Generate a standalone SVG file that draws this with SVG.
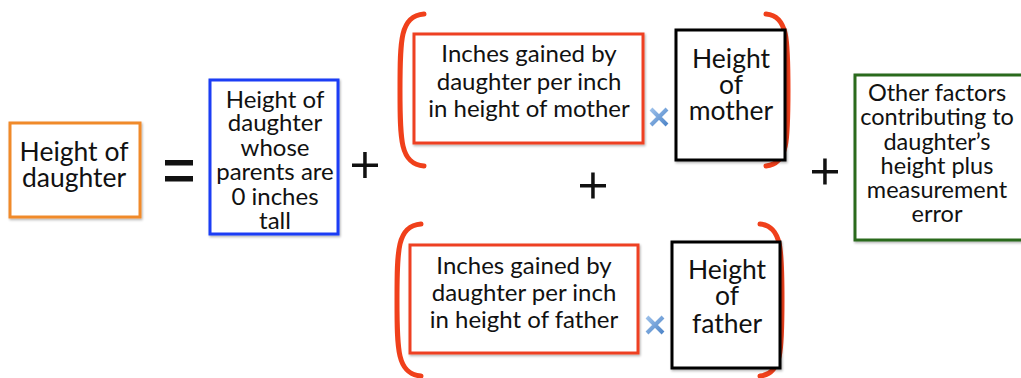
<svg xmlns="http://www.w3.org/2000/svg" width="1021" height="378" viewBox="0 0 1021 378">
  <defs>
    <linearGradient id="xgrad" x1="0" y1="0" x2="1" y2="1">
      <stop offset="0" stop-color="#9cc0ea"/>
      <stop offset="1" stop-color="#4f86c9"/>
    </linearGradient>
    <filter id="shadow" x="-10%" y="-10%" width="120%" height="120%">
      <feDropShadow dx="1" dy="1.5" stdDeviation="1" flood-color="#000" flood-opacity="0.3"/>
    </filter>
  </defs>
  <style>
    text { font-family: Lato, "Liberation Sans", sans-serif; fill: #111; text-anchor: middle; }
    .t { font-size: 24px; }
    .g { font-size: 23.5px; }
    .big { font-size: 26.5px; }
    .box { fill: #fff; stroke-width: 3; filter: url(#shadow); }
    .orange { stroke: #f08a2c; }
    .blue { stroke: #1c3cf5; }
    .red { stroke: #ee4124; }
    .black { stroke: #000; }
    .green { stroke: #2c6a1f; }
    .bracket { fill: none; stroke: #f0401b; stroke-width: 5; stroke-linecap: round; }
    .op { fill: #111; }
    .times { fill: none; stroke: url(#xgrad); stroke-width: 4; stroke-linecap: butt; }
  </style>
  <rect width="1021" height="378" fill="#fff"/>

  <!-- left-hand side -->
  <g id="lhs">
    <rect class="box orange" x="10" y="123" width="130" height="94"/>
    <text class="big" x="74" y="161">Height of</text>
    <text class="big" x="74" y="187">daughter</text>
  </g>

  <!-- operators -->
  <g id="operators">
    <rect class="op" x="165" y="160" width="28" height="5.5"/>
    <rect class="op" x="165" y="176" width="28" height="5.5"/>
    <rect class="op" x="352" y="163.5" width="26" height="3.5"/>
    <rect class="op" x="363.2" y="152" width="3.5" height="26"/>
    <rect class="op" x="580" y="184" width="26" height="3.5"/>
    <rect class="op" x="591.2" y="172.5" width="3.5" height="26"/>
    <rect class="op" x="812" y="170" width="26" height="3.5"/>
    <rect class="op" x="823.2" y="158.5" width="3.5" height="26"/>
  </g>

  <!-- intercept -->
  <g id="intercept">
    <rect class="box blue" x="210" y="80" width="128" height="154"/>
    <text class="t" x="275" y="108">Height of</text>
    <text class="t" x="275" y="131">daughter</text>
    <text class="t" x="275" y="156">whose</text>
    <text class="t" x="275" y="180">parents are</text>
    <text class="t" x="275" y="205">0 inches</text>
    <text class="t" x="275" y="229">tall</text>
  </g>

  <!-- mother term -->
  <g id="mother-term">
    <path class="bracket" d="M424,14 C400,16 400,40 400,90 C400,140 400,164 424,166"/>
    <path class="bracket" d="M766,14 C788,16 788,40 788,90 C788,140 788,164 766,166"/>
    <rect class="box red" x="414" y="34" width="229" height="109"/>
    <text class="t" x="529" y="62">Inches gained by</text>
    <text class="t" x="529" y="90">daughter per inch</text>
    <text class="t" x="529" y="117">in height of mother</text>
    <path class="times" d="M651,109 L667,125 M667,109 L651,125"/>
    <rect class="box black" x="676" y="30" width="109" height="130"/>
    <text class="big" x="731" y="68">Height</text>
    <text class="big" x="731" y="94">of</text>
    <text class="big" x="731" y="120">mother</text>
  </g>

  <!-- father term -->
  <g id="father-term">
    <path class="bracket" d="M421,224 C397,226 397,250 397,300 C397,350 397,374 421,376"/>
    <path class="bracket" d="M760,224 C782,226 782,250 782,300 C782,350 782,374 760,376"/>
    <rect class="box red" x="410" y="245" width="228" height="108"/>
    <text class="t" x="524" y="274">Inches gained by</text>
    <text class="t" x="524" y="301">daughter per inch</text>
    <text class="t" x="524" y="328">in height of father</text>
    <path class="times" d="M647,317 L663,333 M663,317 L647,333"/>
    <rect class="box black" x="672" y="242" width="108" height="126"/>
    <text class="big" x="727" y="279">Height</text>
    <text class="big" x="727" y="305">of</text>
    <text class="big" x="727" y="333">father</text>
  </g>

  <!-- error term -->
  <g id="error-term">
    <rect class="box green" x="855" y="75" width="170" height="165"/>
    <text class="g" x="937" y="101">Other factors</text>
    <text class="g" x="937" y="125">contributing to</text>
    <text class="g" x="937" y="150">daughter’s</text>
    <text class="g" x="937" y="174">height plus</text>
    <text class="g" x="937" y="198">measurement</text>
    <text class="g" x="937" y="222">error</text>
  </g>
</svg>
